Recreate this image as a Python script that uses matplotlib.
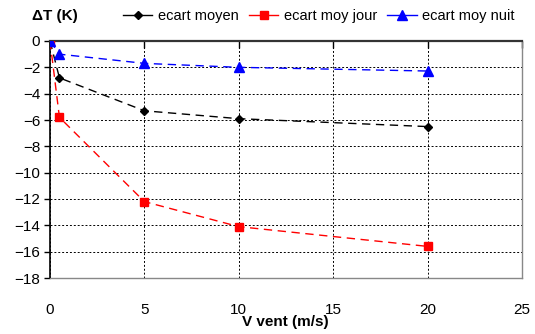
import matplotlib
matplotlib.use("Agg")
import matplotlib.pyplot as plt

plt.rcParams['font.family'] = ['Liberation Sans', 'DejaVu Sans']

v_vent = [0, 0.5, 5, 10, 20]
ecart_moyen = [0, -2.8, -5.3, -5.9, -6.5]
ecart_moy_jour = [0, -5.8, -12.2, -14.1, -15.6]
ecart_moy_nuit = [0, -1.0, -1.7, -2.0, -2.28]
x_ticks = [0, 5, 10, 15, 20, 25]
y_ticks = [0, -2, -4, -6, -8, -10, -12, -14, -16, -18]

fig = plt.figure(figsize=(5.35, 3.34), dpi=100)
ax = fig.add_axes([50/535, 1-278/334, (522-50)/535, (278-41)/334])

ax.plot(v_vent, ecart_moyen, color='black', ls=(0, (6, 4)), lw=1.0,
        marker='D', ms=4, label='ecart moyen', zorder=3)
ax.plot(v_vent, ecart_moy_jour, color='#ff0000', ls=(0, (6, 4)), lw=1.0,
        marker='s', ms=6, label='ecart moy jour', zorder=3)
ax.plot(v_vent, ecart_moy_nuit, color='#0000ff', ls=(0, (6, 4)), lw=1.0,
        marker='^', ms=6.5, label='ecart moy nuit', zorder=3)

ax.set_xlim(0, 25)
ax.set_ylim(-18, 0)
ax.set_xticks(x_ticks)
ax.set_yticks(y_ticks)
ax.grid(True, color='black', ls=(0, (2, 2)), lw=0.7)
ax.set_axisbelow(True)

ax.spines['top'].set_color('#333333')
ax.spines['top'].set_linewidth(1.6)
ax.spines['left'].set_color('black')
ax.spines['left'].set_linewidth(1.2)
for s in ['right', 'bottom']:
    ax.spines[s].set_color('#888888')
    ax.spines[s].set_linestyle((0, (2, 1)))
    ax.spines[s].set_linewidth(1.0)

ax.tick_params(axis='x', top=True, bottom=False, labeltop=False, labelbottom=True,
               direction='in', length=5, width=1.0, labelsize=11, pad=18)
ax.tick_params(axis='y', direction='out', length=4, width=1.0, labelsize=11, pad=3)

fig.text(55/535, 1-16/334, 'ΔT (K)', fontsize=11, fontweight='bold',
         ha='center', va='center')
fig.text(285/535, 1-322/334, 'V vent (m/s)', fontsize=11, fontweight='bold',
         ha='center', va='center')

leg = fig.legend(loc='center', bbox_to_anchor=(319/535, 1-16/334), ncol=3,
                 frameon=False, fontsize=10.5, handlelength=2.0, columnspacing=0.7,
                 handletextpad=0.4)
for h in leg.legend_handles:
    h.set_linestyle('-')

fig.savefig('out.png', dpi=100)
